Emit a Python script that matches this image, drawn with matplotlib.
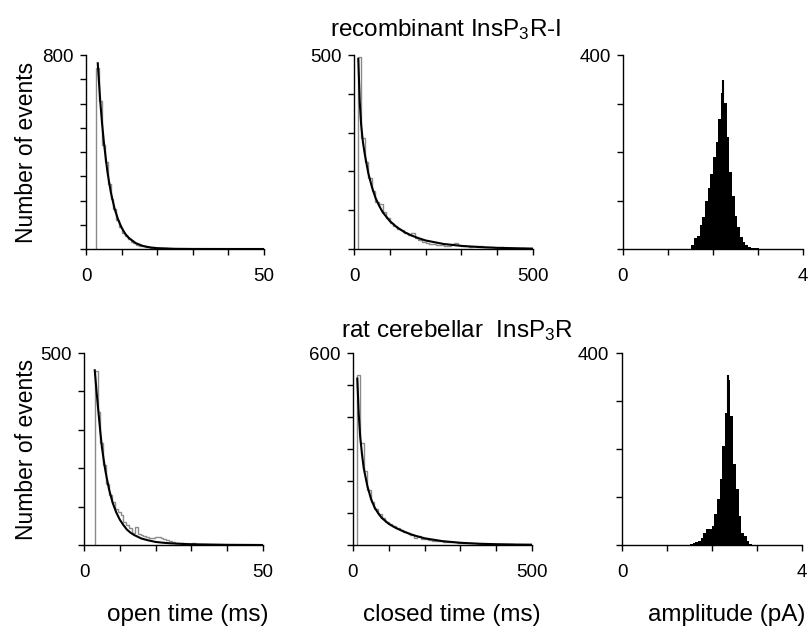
import numpy as np
import matplotlib
matplotlib.use("Agg")
import matplotlib.pyplot as plt

plt.rcParams['font.family'] = ['Liberation Sans', 'DejaVu Sans']
plt.rcParams['mathtext.fontset'] = 'custom'
plt.rcParams['mathtext.rm'] = 'Liberation Sans'
plt.rcParams['mathtext.it'] = 'Liberation Sans'

# ---- recombinant InsP3R-I (top row) ----
top_open_start, top_open_width = 2.9, 0.8
top_open_counts = [745, 610, 430, 360, 270, 205, 165, 120, 90, 68, 52, 40, 30, 24, 18,
                   14, 11, 9, 7, 6, 5, 4, 4, 3, 3, 2, 2, 2, 2, 1, 1, 1, 1, 1, 0, 1, 0, 1]
top_open_fit_t = [3.3, 3.6, 4, 4.5, 5, 5.5, 6, 6.5, 7, 8, 9, 10, 11, 12, 14, 16, 18, 20, 25, 30, 40, 50]
top_open_fit_y = [766, 700, 610, 520, 444, 380, 320, 275, 232, 168, 122, 88, 63, 46, 24, 12.5, 6.6, 3.5, 0.8, 0.2, 0, 0]

top_closed_start, top_closed_width = 10.0, 10.0
top_closed_counts = [495, 285, 225, 182, 150, 120, 115, 95, 80, 68, 58, 52, 50, 42, 35,
                     42, 28, 22, 18, 16, 14, 12, 11, 10, 9, 9, 14, 15, 10, 8,
                     7, 6, 9, 9, 8, 5, 4, 4, 3, 3, 5, 2, 2, 2, 1, 1, 2, 1, 1]
top_closed_fit_t = [12, 16, 20, 25, 30, 40, 50, 60, 70, 80, 100, 120, 140, 160, 180, 200,
                    250, 300, 350, 400, 450, 500]
top_closed_fit_y = [490, 380, 320, 275, 245, 195, 160, 132, 112, 95, 72, 56, 44, 35, 28, 22,
                    13, 8, 5, 3, 2, 1]

top_amp_start, top_amp_width = 1.52, 0.06
top_amp_counts = [8, 22, 27, 50, 65, 100, 125, 155, 190, 220, 268, 322, 302, 230, 158,
                  110, 68, 45, 25, 15, 9, 5, 3, 2, 2, 1]
top_amp_spike = (2.215, 348)

# ---- rat cerebellar InsP3R (bottom row) ----
bot_open_start, bot_open_width = 3.0, 0.8
bot_open_counts = [452, 347, 265, 208, 160, 130, 112, 95, 87, 78, 59, 52, 45, 32, 46,
                   29, 26, 24, 22, 18, 18, 20, 20, 18, 15, 12, 10, 9, 6, 6,
                   4, 3, 3, 2, 4, 2, 1, 1, 1, 0, 1, 0, 1]
bot_open_fit_t = [3.0, 3.5, 4, 4.5, 5, 5.5, 6, 6.5, 7, 8, 9, 10, 11, 12, 13, 14, 16, 18, 20,
                  22, 24, 27, 30, 40, 50]
bot_open_fit_y = [455, 400, 350, 300, 255, 222, 192, 168, 145, 110, 85, 66, 52, 40, 32, 26,
                  17, 12, 8, 6, 4.5, 3, 2, 0.5, 0]

bot_closed_start, bot_closed_width = 10.0, 10.0
bot_closed_counts = [530, 320, 230, 172, 135, 112, 98, 85, 72, 66, 60, 52, 46, 42, 36,
                     30, 22, 27, 20, 18, 15, 13, 12, 12, 10, 9, 8, 9, 7, 7,
                     6, 7, 5, 5, 4, 4, 3, 3, 3, 2, 4, 2, 2, 2, 1, 1, 1, 1, 1]
bot_closed_fit_t = [12, 16, 20, 25, 30, 40, 50, 60, 70, 80, 100, 120, 140, 160, 180, 200,
                    250, 300, 350, 400, 450, 500]
bot_closed_fit_y = [520, 410, 340, 285, 240, 185, 145, 118, 100, 85, 66, 53, 43, 34, 27, 21,
                    12, 7, 4, 2.5, 1.5, 1]

bot_amp_start, bot_amp_width = 1.51, 0.06
bot_amp_counts = [2, 5, 7, 9, 14, 26, 33, 33, 40, 64, 96, 137, 206, 275, 344,
                  268, 168, 116, 61, 26, 19, 9, 2, 1]
bot_amp_spike = (2.36, 354)

# axis settings per column
xmax = [50, 500, 4]
ymax_top = [800, 500, 400]
ymax_bot = [500, 600, 400]
xstep = [10, 100, 1]
xlabels = ['open time (ms)', 'closed time (ms)', 'amplitude (pA)']
xlabel_pos = [0.58, 0.553, 0.583]

fig = plt.figure(figsize=(8.08, 6.27), dpi=100)

W, H = 808, 627
top_boxes = [(86, 55, 178, 194), (354, 55, 179, 194), (623, 55, 180, 194)]
bot_boxes = [(84, 353, 179, 192), (353, 353, 179, 192), (622, 353, 180, 192)]


def make_axes(box):
    x, y, w, h = box
    return fig.add_axes([x / W, 1 - (y + h) / H, w / W, h / H])


def style_axes(ax, xm, ym, xs):
    ax.set_xlim(0, xm)
    ax.set_ylim(0, ym)
    for s in ['top', 'right']:
        ax.spines[s].set_visible(False)
    for s in ['left', 'bottom']:
        ax.spines[s].set_linewidth(1.0)
    xt = np.arange(0, xm + xs / 2, xs)
    ax.set_xticks(xt)
    ax.set_xticklabels(['0'] + [''] * (len(xt) - 2) + ['%g' % xm])
    yt = np.arange(0, ym + 1, 100)
    ax.set_yticks(yt)
    ax.set_yticklabels([''] * (len(yt) - 1) + ['%g' % ym])
    ax.tick_params(axis='x', direction='out', length=4, width=1, pad=10, labelsize=13.5)
    ax.tick_params(axis='y', direction='out', length=4, width=1, pad=5, labelsize=13.5)
    for lab in ax.get_yticklabels():
        lab.set_verticalalignment('center_baseline')


def dwell_panel(ax, start, width, counts, fit_t, fit_y):
    edges = start + width * np.arange(len(counts) + 1)
    ax.stairs(counts, edges, baseline=0, color='#8a8a8a', linewidth=1.0)
    ax.plot(fit_t, fit_y, color='black', linewidth=1.5)


def amp_panel(ax, start, width, counts, spike):
    edges = start + width * np.arange(len(counts) + 1)
    ax.stairs(counts, edges, baseline=0, fill=True, color='black')
    ax.vlines(spike[0], 0, spike[1], color='black', linewidth=1.5)


rows = [
    (top_boxes, ymax_top,
     [(top_open_start, top_open_width, top_open_counts, top_open_fit_t, top_open_fit_y),
      (top_closed_start, top_closed_width, top_closed_counts, top_closed_fit_t, top_closed_fit_y)],
     (top_amp_start, top_amp_width, top_amp_counts, top_amp_spike)),
    (bot_boxes, ymax_bot,
     [(bot_open_start, bot_open_width, bot_open_counts, bot_open_fit_t, bot_open_fit_y),
      (bot_closed_start, bot_closed_width, bot_closed_counts, bot_closed_fit_t, bot_closed_fit_y)],
     (bot_amp_start, bot_amp_width, bot_amp_counts, bot_amp_spike)),
]

for r, (boxes, ymaxes, dwell, amp) in enumerate(rows):
    for c in range(3):
        ax = make_axes(boxes[c])
        if c < 2:
            dwell_panel(ax, *dwell[c])
        else:
            amp_panel(ax, *amp)
        style_axes(ax, xmax[c], ymaxes[c], xstep[c])
        if c == 0:
            ax.set_ylabel('Number of events', fontsize=16.5)
            ax.yaxis.set_label_coords(-(boxes[c][0] - 38) / boxes[c][2], 0.5)
        if r == 1:
            ax.set_xlabel(xlabels[c], fontsize=17.5)
            ax.xaxis.set_label_coords(xlabel_pos[c], -0.305)

fig.text(446 / W, 1 - 36 / H, r'recombinant InsP$_3$R-I', fontsize=17.5,
         ha='center', va='baseline')
fig.text(457 / W, 1 - 337 / H, r'rat cerebellar  InsP$_3$R', fontsize=17.5,
         ha='center', va='baseline')

fig.savefig('out.png', dpi=100)
